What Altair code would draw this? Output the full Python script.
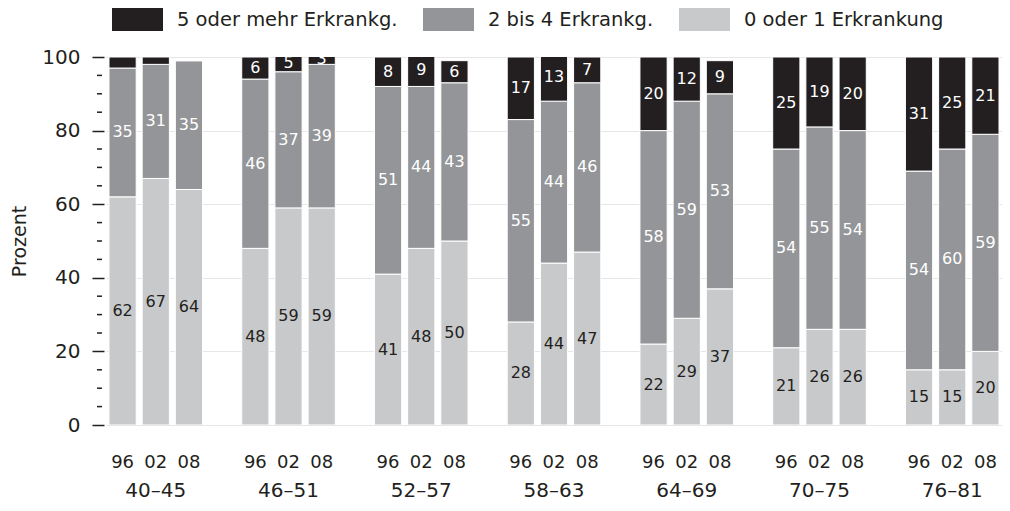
import altair as alt
import pandas as pd

FONT = "DejaVu Sans"
INK = "#231f20"

groups = ["40–45", "46–51", "52–57", "58–63", "64–69", "70–75", "76–81"]
years = ["96", "02", "08"]
series = ["5 oder mehr Erkrankg.", "2 bis 4 Erkrankg.", "0 oder 1 Erkrankung"]
colors = ["#231f20", "#939598", "#c8c9cb"]

# values per bar, in order group x year
low = [62, 67, 64, 48, 59, 59, 41, 48, 50, 28, 44, 47, 22, 29, 37, 21, 26, 26, 15, 15, 20]
mid = [35, 31, 35, 46, 37, 39, 51, 44, 43, 55, 44, 46, 58, 59, 53, 54, 55, 54, 54, 60, 59]
high = [3, 2, 0, 6, 5, 3, 8, 9, 6, 17, 13, 7, 20, 12, 9, 25, 19, 20, 31, 25, 21]
unlabeled_tops = ["40–45|96", "40–45|02"]

y_ticks = [0, 20, 40, 60, 80, 100]
minor_ticks = [5, 10, 15, 25, 30, 35, 45, 50, 55, 65, 70, 75, 85, 90, 95]

rows = []
keys = []
i = 0
for gi, g in enumerate(groups):
    if gi > 0:
        keys.append(f"gap{gi}")
    for yr in years:
        k = f"{g}|{yr}"
        keys.append(k)
        for order, (s, vals) in enumerate([(series[2], low), (series[1], mid), (series[0], high)]):
            v = vals[i]
            show = v > 0 and not (order == 2 and k in unlabeled_tops)
            rows.append(dict(key=k, group=g, year=yr, series=s, order=order, value=v,
                             label=str(v) if show else ""))
        i += 1
df = pd.DataFrame(rows)

W, H = 896, 368
xscale = alt.Scale(domain=keys, paddingInner=0.18, paddingOuter=0.09)
yscale = alt.Scale(domain=[0, 100], nice=False)

x_axis = alt.Axis(title=None, ticks=False, domain=False, labelAngle=0,
                  labelExpr="indexof(datum.value, '|') > 0 ? split(datum.value, '|')[1] : ''",
                  labelFontSize=18, labelPadding=28, labelColor=INK, labelFont=FONT,
                  grid=False)
y_axis = alt.Axis(values=y_ticks, title="Prozent", titleFontSize=19, titleFont=FONT,
                  titleFontWeight="normal", titleColor=INK, titlePadding=12,
                  labelFontSize=20, labelFont=FONT, labelColor=INK, labelPadding=12,
                  tickSize=12, tickWidth=1.5, tickColor=INK, offset=2, domain=False,
                  grid=True, gridColor="#e6e6e6", gridWidth=1)

base = alt.Chart(df).transform_stack(
    stack="value", groupby=["key"], as_=["y0", "y1"],
    sort=[alt.SortField("order", order="ascending")]
)

bars = base.mark_bar(clip=True, stroke="white", strokeWidth=1).encode(
    x=alt.X("key:N", scale=xscale, sort=keys, axis=x_axis),
    y=alt.Y("y0:Q", scale=yscale, axis=y_axis),
    y2="y1:Q",
    color=alt.Color("series:N", scale=alt.Scale(domain=series, range=colors),
                    legend=alt.Legend(orient="none", legendX=6, legendY=-63, direction="horizontal",
                                      title=None, symbolType="M-1,-0.45H1V0.45H-1Z",
                                      symbolSize=2601, symbolStrokeWidth=0, symbolOpacity=1,
                                      labelFontSize=19.5, labelFont=FONT, labelColor=INK,
                                      labelLimit=400, labelOffset=14, columnPadding=25,
                                      padding=0)),
)

texts = base.transform_calculate(mid="(datum.y0 + datum.y1) / 2").transform_filter(
    "datum.label != ''"
).mark_text(clip=True, fontSize=16, font=FONT).encode(
    x=alt.X("key:N", scale=xscale, sort=keys, axis=x_axis),
    y=alt.Y("mid:Q", scale=yscale, axis=y_axis),
    text="label:N",
    color=alt.condition("datum.order == 0", alt.value(INK), alt.value("white")),
)

gdf = pd.DataFrame({"group": groups, "key": [f"{g}|02" for g in groups]})
glabels = alt.Chart(gdf).mark_text(fontSize=20, baseline="alphabetic", font=FONT, color=INK).encode(
    x=alt.X("key:N", scale=xscale, sort=keys, axis=x_axis),
    y=alt.value(H + 72),
    text="group:N",
)

mdf = pd.DataFrame({"t": minor_ticks})
minor = alt.Chart(mdf).mark_rule(color=INK, strokeWidth=1.5).encode(
    x=alt.value(-9), x2=alt.value(-4),
    y=alt.Y("t:Q", scale=yscale, axis=y_axis),
)

chart = alt.layer(bars, texts, glabels, minor).properties(
    width=W, height=H,
    padding={"left": 98, "top": 49, "right": 0, "bottom": 78},
    autosize=alt.AutoSizeParams(type="none"),
).configure_view(stroke=None)

chart.save("out.html", embed_options={"renderer": "svg", "actions": False})
